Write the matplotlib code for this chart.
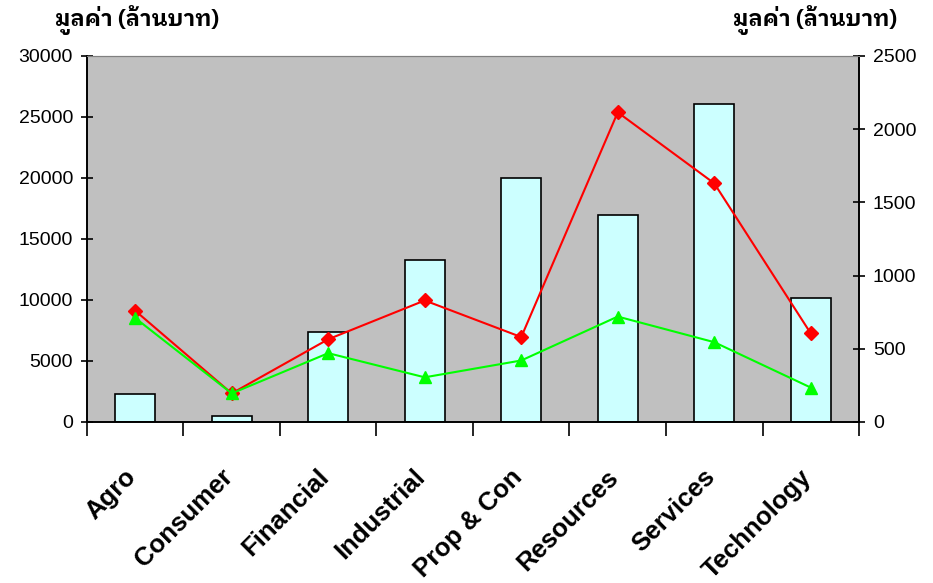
import numpy as np
import matplotlib.pyplot as plt
from matplotlib import font_manager
from matplotlib.transforms import ScaledTranslation

sectors = ["Agro", "Consumer", "Financial", "Industrial",
           "Prop & Con", "Resources", "Services", "Technology"]
# left axis, bars
bar_values = [2300, 450, 7400, 13300, 20000, 17000, 26100, 10200]
# right axis, lines
red_values = [760, 195, 565, 830, 580, 2115, 1630, 605]
green_values = [710, 195, 470, 305, 420, 720, 545, 235]

y_left_ticks = [0, 5000, 10000, 15000, 20000, 25000, 30000]
y_right_ticks = [0, 500, 1000, 1500, 2000, 2500]
axis_title = "มูลค่า (ล้านบาท)"

# find a font with Thai glyphs for the axis titles, looped style if there is one
thai_names = sorted({f.name for f in font_manager.fontManager.ttflist if "thai" in f.name.lower()},
                    key=lambda n: ("looped" not in n.lower(), n))
thai_family = thai_names[:1] + ["DejaVu Sans"]

plt.rcParams["font.family"] = ["Liberation Sans", "DejaVu Sans"]

fig = plt.figure(figsize=(9.33, 5.83), dpi=100)
ax = fig.add_axes([0.0932, 0.2762, 0.8275, 0.6278])
ax2 = ax.twinx()

x = np.arange(len(sectors))
ax.set_facecolor("#C0C0C0")
ax.bar(x, bar_values, width=0.41, color="#CCFFFF", edgecolor="black", linewidth=1.2, zorder=2)

ax2.plot(x, red_values, color="#FF0000", lw=1.5, marker="D", ms=7, zorder=3)
ax2.plot(x, green_values, color="#00FF00", lw=1.5, marker="^", ms=8, zorder=3)

ax.set_xlim(-0.5, len(sectors) - 0.5)
ax.set_ylim(0, 30000)
ax2.set_ylim(0, 2500)
ax.set_yticks(y_left_ticks)
ax2.set_yticks(y_right_ticks)

# tick marks sit on the category boundaries, names are placed by hand below
ax.set_xticks(np.arange(-0.5, len(sectors)))
ax.set_xticklabels([])
ax.tick_params(axis="x", length=10, width=1.2, direction="out")
ax.tick_params(axis="y", length=8, width=1.2, direction="inout", labelsize=14, pad=6)
ax2.tick_params(axis="y", length=8, width=1.2, direction="inout", labelsize=14, pad=6)

offset = ScaledTranslation(-0.115, -0.43, fig.dpi_scale_trans)
for i, name in enumerate(sectors):
    ax.text(i, 0, name, transform=ax.get_xaxis_transform() + offset,
            rotation=45, rotation_mode="anchor", ha="right", va="top",
            fontsize=18.5, fontweight="bold")

for a in (ax, ax2):
    a.spines["top"].set_color("#808080")
    a.spines["left"].set_linewidth(1.2)
    a.spines["right"].set_linewidth(1.2)
    a.spines["bottom"].set_linewidth(1.2)

fig.text(0.059, 0.965, axis_title, family=thai_family, fontsize=16, fontweight="bold",
         ha="left", va="center")
fig.text(0.9614, 0.965, axis_title, family=thai_family, fontsize=16, fontweight="bold",
         ha="right", va="center")

fig.savefig("out.png", dpi=100)
